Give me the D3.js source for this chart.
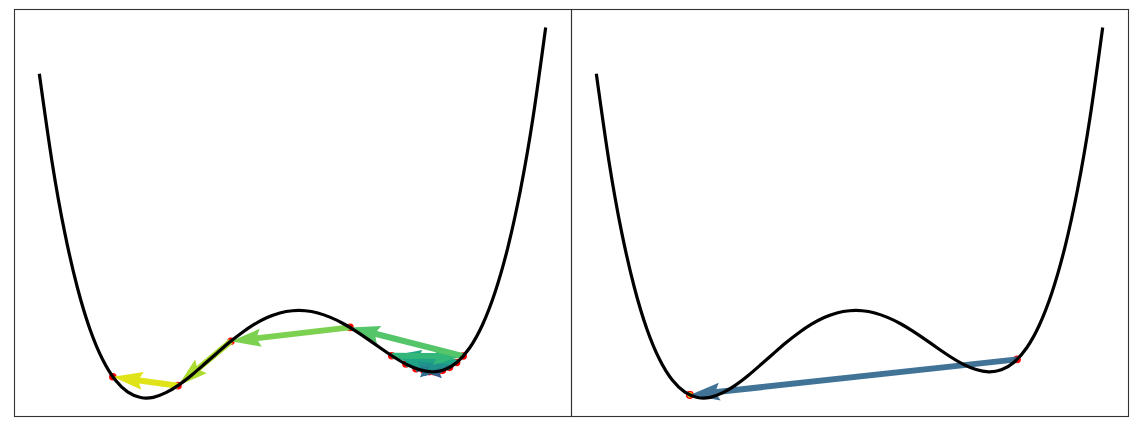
<!DOCTYPE html>
<html><head><meta charset="utf-8">
<script src="https://cdn.jsdelivr.net/npm/d3@7"></script>
<style>html,body{margin:0;padding:0;background:#fff;} svg{display:block;}</style>
</head><body>
<svg id="chart" width="1136" height="430"></svg>
<script>
// Curve samples (x, loss)
const curveX = [-2.5,-2.375,-2.25,-2.125,-2.0,-1.875,-1.75,-1.625,-1.5,-1.375,-1.25,-1.125,-1.0,-0.875,-0.75,-0.625,-0.5,-0.375,-0.25,-0.125,0,
  0.125,0.25,0.375,0.5,0.625,0.75,0.875,1.0,1.125,1.25,1.375,1.5,1.625,1.75,1.875,2.0,2.125,2.25,2.375,2.5];
const curveY = [12.81,8.07,4.25,1.27,-1.0,-2.64,-3.75,-4.40,-4.69,-4.68,-4.43,-4.02,-3.5,-2.91,-2.31,-1.72,-1.19,-0.73,-0.37,-0.12,0,
  0.0,-0.12,-0.36,-0.69,-1.10,-1.56,-2.04,-2.5,-2.90,-3.18,-3.30,-3.19,-2.78,-2.00,-0.77,1.0,3.39,6.50,10.44,15.31];

// Left panel: optimiser trajectory
const leftPathX = [1.40,1.35,1.43,1.30,1.48,1.22,1.55,1.12,1.62,0.98,1.685,0.568,-0.608,-1.131,-1.774];
const leftPathY = [-3.30,-3.29,-3.28,-3.25,-3.22,-3.13,-3.06,-2.88,-2.80,-2.43,-2.45,-0.90,-1.65,-4.05,-3.57];

// Right panel: optimiser trajectory
const rightPathX = [1.655,-1.576,-1.576];
const rightPathY = [-2.63,-4.55,-4.55];

const svg = d3.select('#chart');
const yTop = 9, yBottom = 416;
const panels = [
  {x0:14, x1:571, px:leftPathX, py:leftPathY, colorT: (i,n) => 0.95*i/(n-1), op: 1},
  {x0:571, x1:1128, px:rightPathX, py:rightPathY, colorT: (i,n) => i === 0 ? 0.33 : 0.95, op: 0.92}
];

const xExt = d3.extent(curveX), yExt = d3.extent(curveY);
const xPad = (xExt[1]-xExt[0])*0.05, yPad = (yExt[1]-yExt[0])*0.05;

// matplotlib quiver arrow shape (units of shaft width)
const HL = 5, HAL = 4.5, HW = 3, MINSH = 5, MINLEN = 1;
function arrowPoly(x1,y1,x2,y2,w){
  const dx = x2-x1, dy = y2-y1;
  const Lpx = Math.hypot(dx,dy);
  const L = Lpx / w;
  let pts;
  if (L < MINLEN) {
    pts = d3.range(6).map(k => [Math.cos(k*Math.PI/3)*MINLEN*0.5, Math.sin(k*Math.PI/3)*MINLEN*0.5]);
  } else if (L < MINSH) {
    const s = L / MINSH;
    const xs = [0, MINSH-HAL, MINSH-HL, MINSH];
    const ys = [0.5, 0.5, HW/2, 0];
    pts = [[xs[0],ys[0]],[xs[1],ys[1]],[xs[2],ys[2]],[xs[3],ys[3]],[xs[2],-ys[2]],[xs[1],-ys[1]],[xs[0],-ys[0]]].map(p=>[p[0]*s,p[1]*s]);
  } else {
    const xs = [0, L-HAL, L-HL, L];
    const ys = [0.5, 0.5, HW/2, 0];
    pts = [[xs[0],ys[0]],[xs[1],ys[1]],[xs[2],ys[2]],[xs[3],ys[3]],[xs[2],-ys[2]],[xs[1],-ys[1]],[xs[0],-ys[0]]];
  }
  const a = Math.atan2(dy,dx), c = Math.cos(a), s = Math.sin(a);
  return pts.map(([u,v]) => [x1 + w*(u*c - v*s), y1 + w*(u*s + v*c)]);
}

panels.forEach((p, pi) => {
  const x = d3.scaleLinear().domain([xExt[0]-xPad, xExt[1]+xPad]).range([p.x0, p.x1]);
  const y = d3.scaleLinear().domain([yExt[0]-yPad, yExt[1]+yPad]).range([yBottom, yTop]);
  const clipId = 'clip'+pi;
  svg.append('clipPath').attr('id', clipId).append('rect')
    .attr('x', p.x0).attr('y', yTop).attr('width', p.x1-p.x0).attr('height', yBottom-yTop);
  const g = svg.append('g').attr('clip-path', `url(#${clipId})`);

  const pts = p.px.map((v,i) => [x(v), y(p.py[i])]);
  // red markers
  g.selectAll('circle.pt').data(pts).enter().append('circle')
    .attr('cx', d => d[0]).attr('cy', d => d[1]).attr('r', 3.8).attr('fill', '#ff0000');
  // arrows
  const n = pts.length - 1;
  const arrows = d3.range(n).map(i => ({a: pts[i], b: pts[i+1], t: p.colorT(i, n)}));
  g.selectAll('path.arrow').data(arrows).enter().append('path')
    .attr('d', d => 'M' + arrowPoly(d.a[0], d.a[1], d.b[0], d.b[1], 6).map(q => q.join(',')).join('L') + 'Z')
    .attr('fill', d => d3.interpolateViridis(d.t))
    .attr('fill-opacity', p.op);
  // curve
  const line = d3.line().x((d,i) => x(curveX[i])).y(d => y(d)).curve(d3.curveNatural);
  g.append('path').attr('d', line(curveY)).attr('fill','none').attr('stroke','#000').attr('stroke-width',3.2);
  // frame
  svg.append('rect').attr('x', p.x0+0.5).attr('y', yTop+0.5).attr('width', p.x1-p.x0).attr('height', yBottom-yTop)
    .attr('fill','none').attr('stroke','#333').attr('stroke-width',1.1);
});
</script>
</body></html>
